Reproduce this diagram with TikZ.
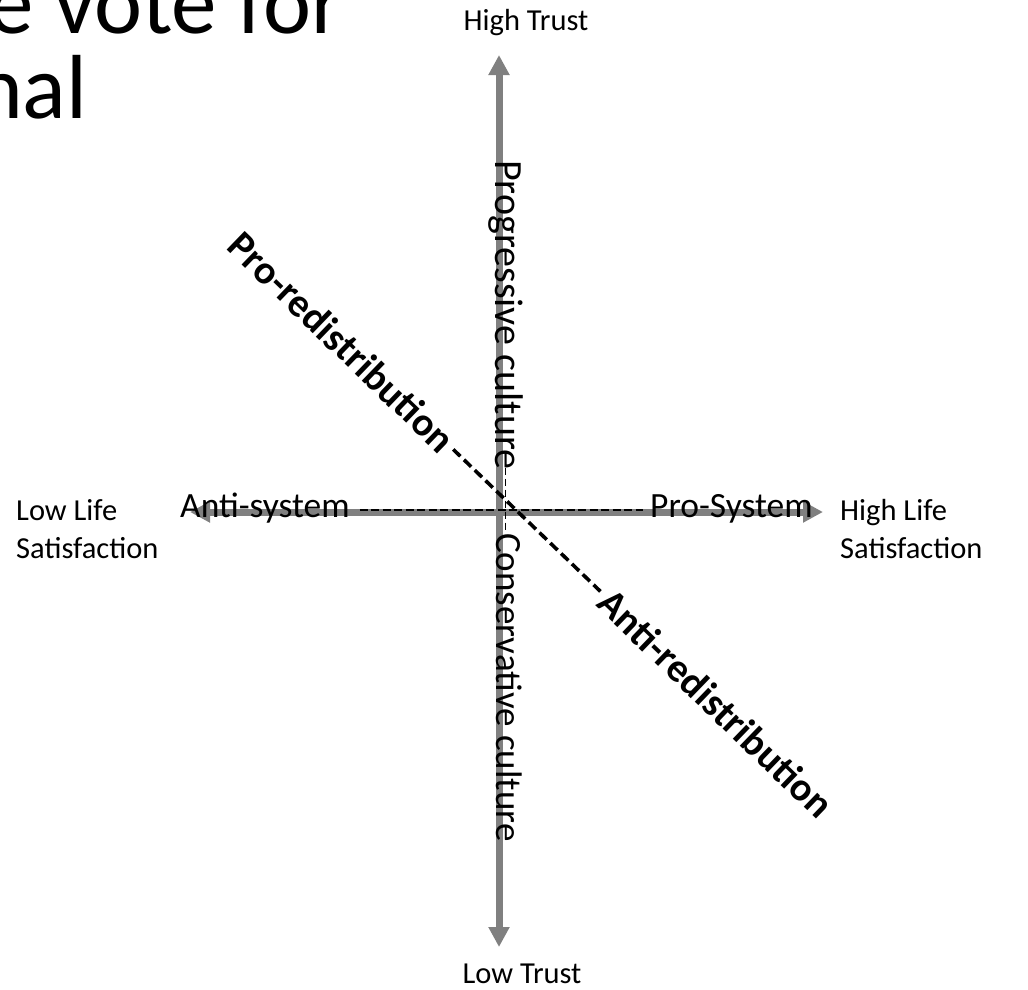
\documentclass[tikz,border=0pt]{standalone}
\usepackage{fontspec}
\setmainfont{Carlito}
\usetikzlibrary{arrows.meta, positioning}

\begin{document}
\begin{tikzpicture}[
    x=1pt, y=-1pt,
    axis/.style={draw=gray, line width=7pt, {Triangle[width=20pt,length=20pt]}-{Triangle[width=20pt,length=20pt]}},
    pole/.style={font=\fontsize{30.5}{38}\selectfont, align=left, inner sep=0pt},
    side/.style={font=\fontsize{35.5}{43}\selectfont, inner sep=0pt},
    redis/.style={font=\fontsize{40}{48}\selectfont\bfseries, inner sep=0pt, rotate=-44},
    title/.style={font=\fontsize{91}{82}\selectfont, inner sep=0pt, anchor=base west},
    thindash/.style={draw, line width=2.2pt, dash pattern=on 8pt off 3.5pt},
    thickdash/.style={draw, line width=3.6pt, dash pattern=on 10pt off 5pt}
]
\useasboundingbox (0,0) rectangle (1028,989);

% Title (cut off by the slide)
\node[title] (title1) at (-12,33) {e vote for};
\node[title] (title2) at (-25,118) {nal};

% Axes
\coordinate (top) at (499,55);
\coordinate (bottom) at (499,947);
\coordinate (left) at (190,512);
\coordinate (right) at (823,512);
\draw[axis] (bottom) -- (top);
\draw[axis] (left) -- (right);

% Poles
\node[pole, anchor=base] (hightrust) at (526,30) {High Trust};
\node[pole, anchor=base] (lowtrust) at (522,983) {Low Trust};
\node[pole, anchor=west] (lowlife) at (16,529) {Low Life\\Satisfaction};
\node[pole, anchor=west] (highlife) at (840,529) {High Life\\Satisfaction};

% System dimension
\node[side, anchor=base west] (anti) at (180,517) {Anti-system};
\node[side, anchor=base west] (pro) at (650,517) {Pro-System};
\draw[thindash, shorten <=10pt, shorten >=7pt] (anti.east |- 0,510) -- (pro.west |- 0,510);

% Culture dimension
\node[side, font=\fontsize{40}{48}\selectfont, anchor=base west, rotate=-90] (prog) at (495,160) {Progressive culture};
\node[side, font=\fontsize{37}{44}\selectfont, anchor=base west, rotate=-90] (cons) at (496,533) {Conservative culture};
\draw[thindash, line width=1.8pt, dash pattern=on 7pt off 4pt, shorten <=-2pt]
    (prog.east) -- (prog.east |- cons.west);

% Redistribution dimension
\node[redis] (prored) at (342,342) {Pro-redistribution};
\node[redis] (antired) at (716,703) {Anti-redistribution};
\draw[thickdash, shorten <=6pt, shorten >=6pt] (prored.east) -- (antired.west);

\end{tikzpicture}
\end{document}
